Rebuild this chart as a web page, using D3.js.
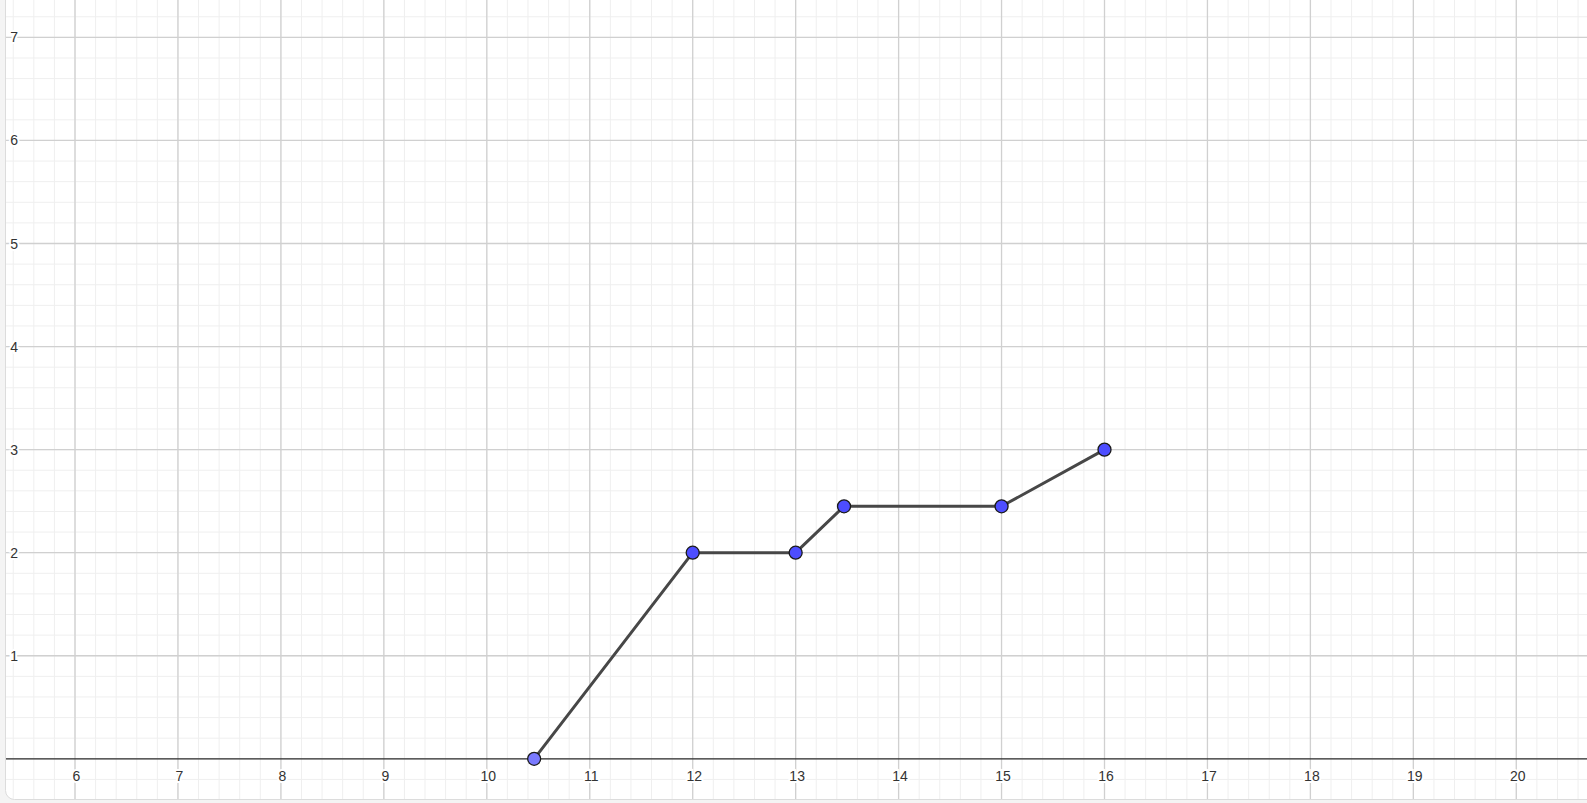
<!DOCTYPE html>
<html>
<head>
<meta charset="utf-8">
<script src="https://cdnjs.cloudflare.com/ajax/libs/d3/7.8.5/d3.min.js"></script>
<style>
    html, body { margin: 0; padding: 0; background: #f4f4f4; overflow: hidden; }
    svg { display: block; }
    .lbl { font-family: "Liberation Sans", Arial, sans-serif; font-size: 14px; fill: #333; }
</style>
</head>
<body>
<div id="chart"></div>
<script>
(function() {
    'use strict';

    // pontos da poligonal
    var xValues = [10.46, 12, 13, 13.47, 15, 16];
    var yValues = [0, 2, 2, 2.45, 2.45, 3];
    var xTicks = [6, 7, 8, 9, 10, 11, 12, 13, 14, 15, 16, 17, 18, 19, 20];
    var yTicks = [1, 2, 3, 4, 5, 6, 7];

    var w = 1587, h = 803;
    var left = 6, bottom = 799;

    // escalas: 6 em x=75, 0 em y=758.8, ~103px por unidade
    var x = d3.scaleLinear().domain([6, 20]).range([75, 1516.3]);
    var y = d3.scaleLinear().domain([0, 7]).range([758.8, 37.4]);

    var svg = d3.select("#chart")
        .append("svg")
        .attr("width", w)
        .attr("height", h);

    svg.append("defs").append("clipPath")
        .attr("id", "area")
        .append("rect")
        .attr("x", left)
        .attr("y", -20)
        .attr("width", w + 20)
        .attr("height", bottom + 20)
        .attr("rx", 9);

    // fundo branco com canto arredondado
    svg.append("rect")
        .attr("x", left - 0.5)
        .attr("y", -20)
        .attr("width", w + 20)
        .attr("height", bottom + 20.5)
        .attr("rx", 9)
        .attr("fill", "#fff")
        .attr("stroke", "#dcdcdc");

    var g = svg.append("g").attr("clip-path", "url(#area)");

    var xDom = x.invert(0), xMax = x.invert(w);
    var yMin = y.invert(h), yMax = y.invert(0);

    var minorX = d3.range(Math.ceil(xDom * 5), Math.floor(xMax * 5) + 1).map(function(d) { return d / 5; });
    var minorY = d3.range(Math.ceil(yMin * 5), Math.floor(yMax * 5) + 1).map(function(d) { return d / 5; });
    var majorX = d3.range(Math.ceil(xDom), Math.floor(xMax) + 1);
    var majorY = d3.range(Math.ceil(yMin), Math.floor(yMax) + 1).filter(function(d) { return d !== 0; });

    // grade menor
    g.selectAll(".minx").data(minorX).enter().append("line")
        .attr("x1", function(d) { return x(d); })
        .attr("x2", function(d) { return x(d); })
        .attr("y1", 0).attr("y2", h)
        .attr("stroke", "#efefef").attr("stroke-width", 1);
    g.selectAll(".miny").data(minorY).enter().append("line")
        .attr("y1", function(d) { return y(d); })
        .attr("y2", function(d) { return y(d); })
        .attr("x1", 0).attr("x2", w)
        .attr("stroke", "#efefef").attr("stroke-width", 1);

    // grade maior
    g.selectAll(".majx").data(majorX).enter().append("line")
        .attr("x1", function(d) { return x(d); })
        .attr("x2", function(d) { return x(d); })
        .attr("y1", 0).attr("y2", h)
        .attr("stroke", "#d0d0d0").attr("stroke-width", 1.3);
    g.selectAll(".majy").data(majorY).enter().append("line")
        .attr("y1", function(d) { return y(d); })
        .attr("y2", function(d) { return y(d); })
        .attr("x1", 0).attr("x2", w)
        .attr("stroke", "#d0d0d0").attr("stroke-width", 1.3);

    // eixo x
    g.append("line")
        .attr("x1", 0).attr("x2", w)
        .attr("y1", y(0)).attr("y2", y(0))
        .attr("stroke", "#2a2a2a").attr("stroke-width", 1.3);

    // rótulos
    g.selectAll(".xl").data(xTicks).enter().append("text")
        .attr("class", "lbl")
        .attr("x", function(d) { return x(d) + 1.5; })
        .attr("y", y(0) + 22)
        .attr("text-anchor", "middle")
        .attr("stroke", "#fff").attr("stroke-width", 4)
        .attr("paint-order", "stroke")
        .text(function(d) { return d; });

    g.selectAll(".yl").data(yTicks).enter().append("text")
        .attr("class", "lbl")
        .attr("x", 18)
        .attr("y", function(d) { return y(d); })
        .attr("dy", "0.36em")
        .attr("text-anchor", "end")
        .attr("stroke", "#fff").attr("stroke-width", 4)
        .attr("paint-order", "stroke")
        .text(function(d) { return d; });

    // poligonal
    var pts = xValues.map(function(v, i) { return [v, yValues[i]]; });
    var line = d3.line()
        .x(function(d) { return x(d[0]); })
        .y(function(d) { return y(d[1]); });

    g.append("path")
        .datum(pts)
        .attr("d", line)
        .attr("fill", "none")
        .attr("stroke", "#474747")
        .attr("stroke-width", 3)
        .attr("stroke-linejoin", "round");

    g.selectAll(".pt").data(pts).enter().append("circle")
        .attr("cx", function(d) { return x(d[0]); })
        .attr("cy", function(d) { return y(d[1]); })
        .attr("r", 6.5)
        .attr("fill", function(d, i) { return i === 0 ? "#7a7aff" : "#4d4dff"; })
        .attr("stroke", "#1a1a1a")
        .attr("stroke-width", 1.3);
}());
</script>
</body>
</html>
